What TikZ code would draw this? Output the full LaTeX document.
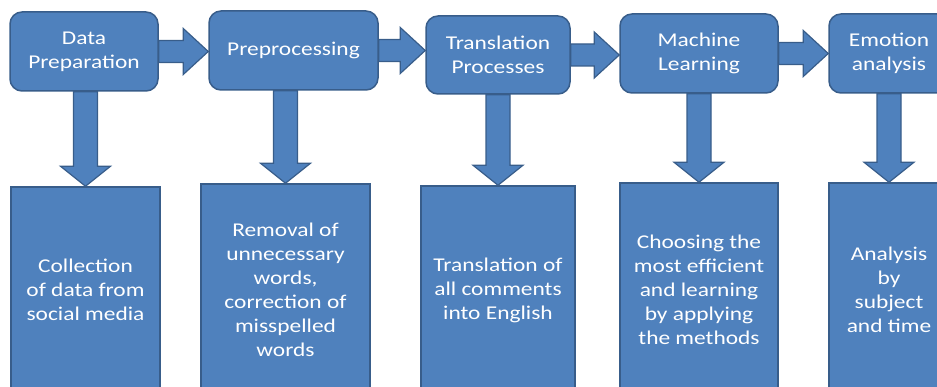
\documentclass[tikz,border=0pt]{standalone}
\usepackage{fontspec}
\setmainfont[FakeStretch=1.2]{Carlito}
\usepackage{tikz}
\usetikzlibrary{calc,positioning}
\definecolor{boxblue}{HTML}{4F81BD}
\definecolor{boxline}{HTML}{385D8A}

\begin{document}
\begin{tikzpicture}[x=1pt, y=1pt,
		stagebox/.style = {draw=boxline, fill=boxblue, line width=1.5pt, rounded corners=12pt, text=white, align=center, font=\fontsize{19.5}{24}\selectfont, inner sep=2pt},
		detailbox/.style = {draw=boxline, fill=boxblue, line width=1.5pt, text=white, align=center, font=\fontsize{19.5}{24}\selectfont, inner sep=2pt},
		blockarrow/.style = {draw=boxline, fill=boxblue, line width=1.2pt, line join=miter}]
		\useasboundingbox (0,0) rectangle (937,-387);
		% stages
		\node [stagebox, minimum width=148pt, minimum height=79pt](dataprep) at (84,-51.5) {Data\\Preparation};
		\node [stagebox, minimum width=169pt, minimum height=79pt](preproc) at (293.5,-50.5) {Preprocessing};
		\node [stagebox, minimum width=144pt, minimum height=78pt](transl) at (498,-55) {Translation\\Processes};
		\node [stagebox, minimum width=158pt, minimum height=79pt](mlearn) at (699,-53.5) {Machine\\Learning};
		\node [stagebox, minimum width=120pt, minimum height=79pt](emot) at (889,-53.5) {Emotion\\analysis};
		% details
		\node [detailbox, minimum width=149pt, minimum height=206pt](collect) at (85.5,-290) {Collection\\of data from\\social media};
		\node [detailbox, minimum width=169pt, minimum height=212pt](removal) at (285.5,-290) {Removal of\\unnecessary\\words,\\correction of\\misspelled\\words};
		\node [detailbox, minimum width=154pt, minimum height=208pt](transall) at (498,-290) {Translation of\\all comments\\into English};
		\node [detailbox, minimum width=158pt, minimum height=214pt](choose) at (699,-290) {Choosing the\\most efficient\\and learning\\by applying\\the methods};
		\node [detailbox, minimum width=120pt, minimum height=214pt](analys) at (889,-290) {Analysis\\by\\subject\\and time};
		% arrows between stages
		\foreach \a/\b in {dataprep/preproc, preproc/transl, transl/mlearn, mlearn/emot}
			\draw [blockarrow] let \p1 = (\a.east), \p2 = (\b.west) in (\x1,\y1+11pt) -- (\x2-25pt,\y1+11pt) -- (\x2-25pt,\y1+23pt) -- (\x2,\y1) -- (\x2-25pt,\y1-23pt) -- (\x2-25pt,\y1-11pt) -- (\x1,\y1-11pt) -- cycle;
		% arrows down to details
		\foreach \a/\b in {dataprep/collect, preproc/removal, transl/transall, mlearn/choose, emot/analys}
			\draw [blockarrow] let \p1 = (\a.south), \p2 = (\b.north) in (\x2-12pt,\y1) -- (\x2-12pt,\y2+20pt) -- (\x2-25pt,\y2+20pt) -- (\x2,\y2) -- (\x2+25pt,\y2+20pt) -- (\x2+12pt,\y2+20pt) -- (\x2+12pt,\y1) -- cycle;
		\end{tikzpicture}
\end{document}
